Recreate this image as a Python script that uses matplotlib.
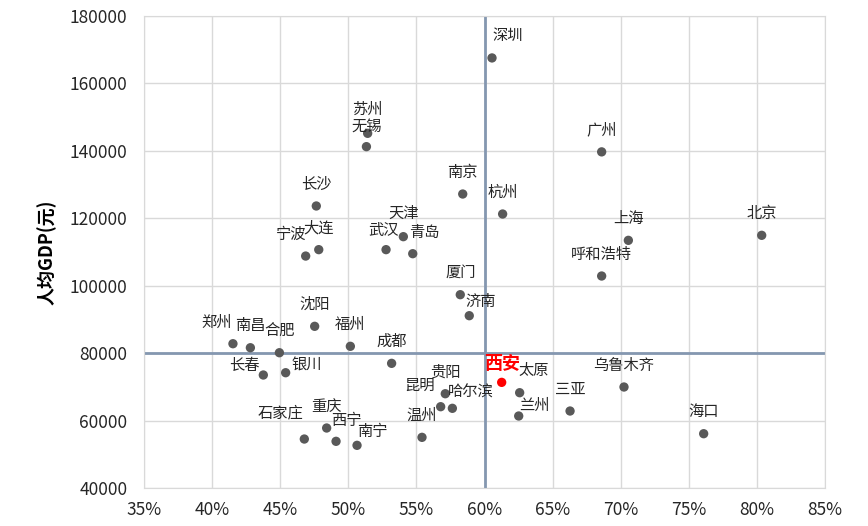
import matplotlib
matplotlib.use("Agg")
import matplotlib.pyplot as plt
from matplotlib.ticker import FuncFormatter

plt.rcParams['font.family'] = ['Noto Sans CJK SC', 'DejaVu Sans']

# city, urbanisation-like share (%), GDP per capita (yuan)
cities = ['深圳', '苏州', '无锡', '长沙', '南京', '天津', '武汉', '青岛', '大连', '宁波',
          '广州', '杭州', '上海', '北京', '呼和浩特', '厦门', '济南', '沈阳', '郑州', '南昌',
          '合肥', '福州', '成都', '长春', '银川', '贵阳', '昆明', '哈尔滨', '温州', '石家庄',
          '重庆', '西宁', '南宁', '西安', '太原', '兰州', '三亚', '乌鲁木齐', '海口']
share = [60.55, 51.42, 51.33, 47.65, 58.40, 54.04, 52.77, 54.73, 47.83, 46.87,
         68.60, 61.33, 70.56, 80.35, 68.60, 58.22, 58.88, 47.53, 41.53, 42.81,
         44.94, 50.15, 53.18, 43.76, 45.40, 57.12, 56.78, 57.64, 55.41, 46.77,
         48.41, 49.10, 50.64, 61.26, 62.58, 62.51, 66.28, 70.24, 76.09]
gdp = [167560, 145200, 141250, 123650, 127200, 114550, 110700, 109500, 110700, 108800,
       139700, 121270, 113460, 114950, 102880, 97340, 91110, 87960, 82800, 81610,
       80130, 82030, 76980, 73520, 74200, 67970, 64120, 63640, 55030, 54530,
       57800, 53850, 52660, 71340, 68270, 61360, 62840, 69960, 56110]

x_mid = 60
y_mid = 80000
highlight = '西安'

# label offsets in pixels (dx, dy up)
offsets = {'深圳': (16, 22), '苏州': (0, 24), '无锡': (0, 20), '天津': (0, 23),
           '武汉': (-2, 19), '济南': (11, 14), '青岛': (12, 21), '宁波': (-15, 22),
           '郑州': (-16, 21), '长春': (-19, 10), '银川': (21, 8), '昆明': (-21, 21),
           '哈尔滨': (18, 16), '石家庄': (-24, 26), '西宁': (10, 21), '南宁': (15, 14),
           '太原': (14, 22), '兰州': (16, 11), '西安': (0, 19)}

fig = plt.figure(figsize=(8.68, 5.26), dpi=100)
ax = fig.add_axes([0.1659, 0.0722, 0.7846, 0.8974])

ax.set_xlim(35, 85)
ax.set_ylim(40000, 180000)
ax.set_xticks(range(35, 86, 5))
ax.set_yticks(range(40000, 180001, 20000))
ax.xaxis.set_major_formatter(FuncFormatter(lambda v, p: f'{v:.0f}%'))
ax.grid(True, color='#D9D9D9', linewidth=1)
ax.set_axisbelow(True)
for s in ax.spines.values():
    s.set_color('#D9D9D9')
ax.tick_params(length=0, labelsize=12.5, colors='#262626')
ax.tick_params(axis='y', pad=12)
ax.tick_params(axis='x', pad=9)

ax.axvline(x_mid, color='#8497B0', linewidth=2, zorder=2)
ax.axhline(y_mid, color='#8497B0', linewidth=2, zorder=2)

colors = ['red' if c == highlight else '#595959' for c in cities]
ax.scatter(share, gdp, s=45, c=colors, zorder=3, linewidths=0)

px = 72 / fig.dpi
for c, xv, yv in zip(cities, share, gdp):
    dx, dy = offsets.get(c, (0, 22))
    if c == highlight:
        ax.annotate(c, (xv, yv), xytext=(dx * px, dy * px), textcoords='offset points',
                    ha='center', va='center', fontsize=13, color='red', fontweight='bold')
    else:
        ax.annotate(c, (xv, yv), xytext=(dx * px, dy * px), textcoords='offset points',
                    ha='center', va='center', fontsize=11, color='#262626')

ax.set_ylabel('人均GDP(元)', fontsize=13, fontweight='bold', labelpad=9, color='black')

fig.savefig('out.png', dpi=100)
